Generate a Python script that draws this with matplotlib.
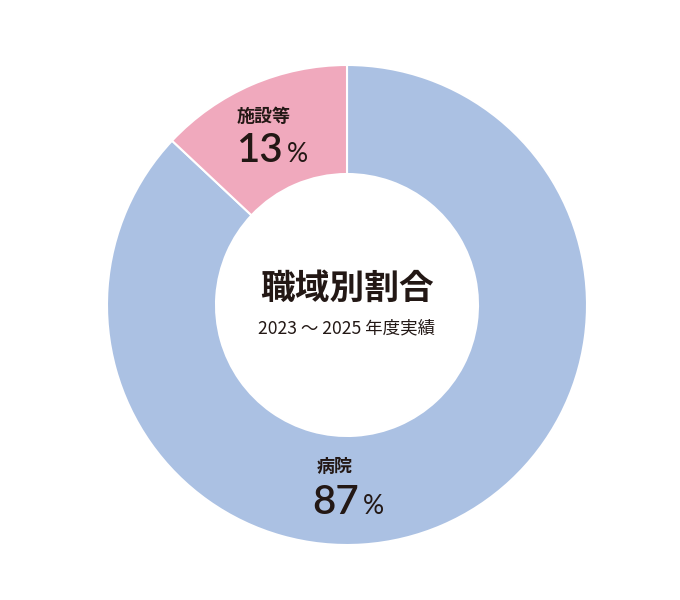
import matplotlib
matplotlib.use("Agg")
import matplotlib.pyplot as plt

categories = ["病院", "施設等"]
values = [87, 13]
colors = ["#abc1e3", "#f0a9bd"]
title = "職域別割合"
subtitle = "2023 ～ 2025 年度実績"

plt.rcParams['font.family'] = ['Noto Sans CJK JP', 'DejaVu Sans']
txt = "#231815"

fig = plt.figure(figsize=(6.8, 6.0), dpi=100)
ax = fig.add_axes([0, 0, 1, 1])

cx, cy, R, r = 347, 295, 240, 131
ax.pie(values, colors=colors, startangle=90, counterclock=False,
       center=(cx, cy), radius=R, frame=True,
       wedgeprops=dict(width=R - r, edgecolor="white", linewidth=1.5))
ax.set_xlim(0, 680)
ax.set_ylim(0, 600)
ax.set_aspect("equal")
ax.axis("off")

ax.text(cx, 600 - 288, title, ha="center", va="center", fontsize=25,
        fontweight="bold", color=txt)
ax.text(cx, 600 - 328, subtitle, ha="center", va="center", fontsize=12.6,
        color=txt)

num_font = ["Lato", "DejaVu Sans"]

def label(xn, yn, xr, ybase, name, val):
    ax.text(xn, 600 - yn, name, ha="center", va="center", fontsize=13,
            fontweight="bold", color=txt)
    ax.text(xr, 600 - ybase, str(val), ha="right", va="baseline",
            fontsize=29, fontweight="semibold", color=txt, family=num_font)
    ax.text(xr + 4, 600 - ybase, "%", ha="left", va="baseline",
            fontsize=19, color=txt, family=num_font)

label(264, 117, 283, 162, categories[1], values[1])
label(335, 466, 359, 514, categories[0], values[0])

fig.savefig("out.png", dpi=100)
